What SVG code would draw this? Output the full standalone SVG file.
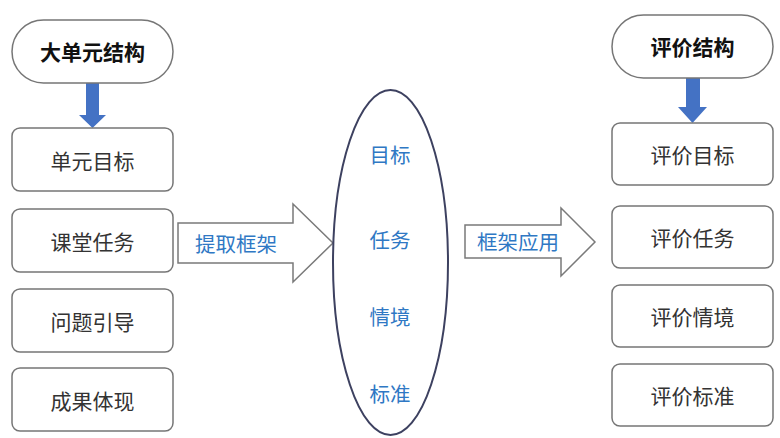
<svg xmlns="http://www.w3.org/2000/svg" width="780" height="438" viewBox="0 0 780 438">
<style>
.box{fill:#fff;stroke:#767676;stroke-width:1.5}
.t{font-family:"Noto Sans CJK SC","Noto Sans",sans-serif;font-size:21px;fill:#333;text-anchor:middle;dominant-baseline:central}
.b{font-weight:bold;fill:#111}
.bl{fill:#2f78c4;font-size:20.5px}
.blue{fill:#4472c4}
.arr{fill:#fff;stroke:#7a7a7a;stroke-width:1.5}
</style>
<rect width="780" height="438" fill="#fff"/>
<g id="connectors">
<polygon class="blue" points="86,83 99,83 99,115 106,115 92.5,128 79,115 86,115"/>
<polygon class="blue" points="686,78 700,78 700,107 707,107 692.5,123 678,107 686,107"/>
<polygon class="arr" points="178,223 293,223 293,204 333,243 293,282 293,263 178,263"/>
<text class="t bl" x="236" y="243">提取框架</text>
<polygon class="arr" points="465,225 561,225 561,208 595,242 561,276 561,258 465,258"/>
<text class="t bl" x="518" y="241">框架应用</text>
</g>
<g id="n-dayuan"><rect class="box" x="12" y="20" width="161" height="63" rx="31.5"/><text class="t b" x="92.5" y="51">大单元结构</text></g>
<g id="n-mubiao"><rect class="box" x="12" y="128" width="161" height="63" rx="8"/><text class="t" x="92.5" y="159.5">单元目标</text></g>
<g id="n-renwu"><rect class="box" x="12" y="209" width="161" height="63" rx="8"/><text class="t" x="92.5" y="240.5">课堂任务</text></g>
<g id="n-wenti"><rect class="box" x="12" y="289" width="161" height="63" rx="8"/><text class="t" x="92.5" y="320.5">问题引导</text></g>
<g id="n-chengguo"><rect class="box" x="12" y="368" width="161" height="63" rx="8"/><text class="t" x="92.5" y="399.5">成果体现</text></g>
<g id="n-ellipse"><ellipse cx="390.5" cy="262.5" rx="57.5" ry="172.5" fill="#fff" stroke="#3d4160" stroke-width="2"/>
<text class="t bl" x="390" y="154">目标</text>
<text class="t bl" x="390" y="239">任务</text>
<text class="t bl" x="390" y="316">情境</text>
<text class="t bl" x="390" y="393">标准</text></g>
<g id="n-pingjia"><rect class="box" x="612" y="15" width="161" height="63" rx="31.5"/><text class="t b" x="692.5" y="46">评价结构</text></g>
<g id="n-pj-mubiao"><rect class="box" x="612" y="123" width="161" height="62" rx="8"/><text class="t" x="692.5" y="154">评价目标</text></g>
<g id="n-pj-renwu"><rect class="box" x="612" y="206" width="161" height="62" rx="8"/><text class="t" x="692.5" y="237">评价任务</text></g>
<g id="n-pj-qingjing"><rect class="box" x="612" y="285" width="161" height="62" rx="8"/><text class="t" x="692.5" y="316">评价情境</text></g>
<g id="n-pj-biaozhun"><rect class="box" x="612" y="364" width="161" height="62" rx="8"/><text class="t" x="692.5" y="395">评价标准</text></g>
</svg>
